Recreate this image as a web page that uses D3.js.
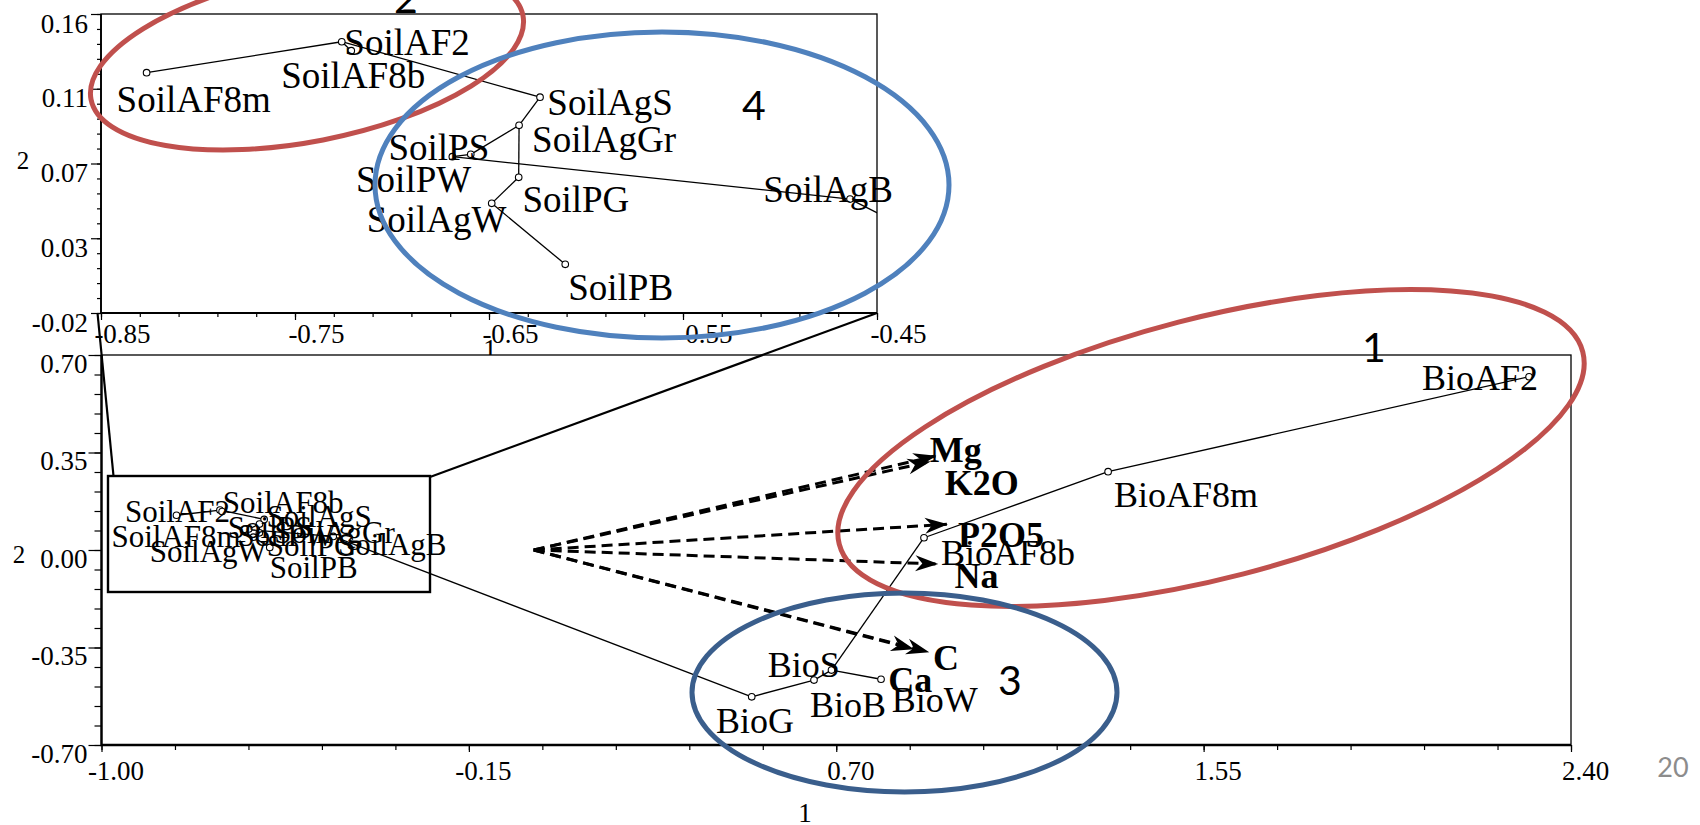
<!DOCTYPE html>
<html><head><meta charset="utf-8">
<script src="https://cdn.jsdelivr.net/npm/d3@7"></script>
<style>body{margin:0;background:#fff} svg{display:block}</style>
</head><body>
<svg id="c" width="1700" height="825"></svg>
<script>
// ---------------- DATA ----------------
const soilNames = ["SoilAF8m","SoilAF2","SoilAF8b","SoilAgS","SoilAgGr","SoilPS","SoilPW","SoilPG","SoilAgW","SoilPB","SoilAgB"];
const soilX = [-0.8265,-0.7259,-0.7210,-0.6237,-0.6345,-0.6594,-0.6689,-0.6347,-0.6486,-0.6107,-0.4639];
const soilY = [0.1247,0.1433,0.1379,0.1099,0.0930,0.0755,0.0741,0.0617,0.0460,0.0093,0.0486];

const bioNames = ["BioAF2","BioAF8m","BioAF8b","BioS","BioB","BioG","BioW"];
const bioX = [2.303,1.329,0.903,0.689,0.6485,0.5044,0.8036];
const bioY = [0.622,0.281,0.044,-0.431,-0.467,-0.527,-0.464];

const varNames = ["Mg","K2O","P2O5","Na","C","Ca"];
const varX = [0.9294,0.9159,0.956,0.9338,0.913,0.878];
const varY = [0.3374,0.3170,0.0923,-0.0503,-0.3662,-0.355];

const links = [
  ["SoilAF8m","SoilAF2"],["SoilAF2","SoilAF8b"],["SoilAF2","SoilAgS"],["SoilAgS","SoilAgGr"],
  ["SoilAgGr","SoilPG"],["SoilAgGr","SoilPS"],["SoilPS","SoilPW"],["SoilPG","SoilAgW"],
  ["SoilAgW","SoilPB"],["SoilPW","SoilAgB"],["SoilAgB","BioG"],["BioG","BioB"],
  ["BioB","BioS"],["BioS","BioW"],["BioS","BioAF8b"],["BioAF8b","BioAF8m"],["BioAF8m","BioAF2"]
];

const insetXTicks = [-0.85,-0.75,-0.65,-0.55,-0.45];
const insetXLabels = ["-0.85","-0.75","-0.65","-0.55","-0.45"];
const insetYTicks = [0.16,0.115,0.07,0.025,-0.02];
const insetYLabels = ["0.16","0.11","0.07","0.03","-0.02"];
const mainXTicks = [-1.00,-0.15,0.70,1.55,2.40];
const mainXLabels = ["-1.00","-0.15","0.70","1.55","2.40"];
const mainYTicks = [0.70,0.35,0.00,-0.35,-0.70];
const mainYLabels = ["0.70","0.35","0.00","-0.35","-0.70"];

// ---------------- LAYOUT ----------------
const serif = "'Liberation Serif','Times New Roman',serif";
const sans = "Lato,'Open Sans',sans-serif";
const svg = d3.select("#c");

const xI = d3.scaleLinear().domain([-0.85,-0.45]).range([101,877]);
const yI = d3.scaleLinear().domain([-0.02,0.16]).range([313,14]);
const xM = d3.scaleLinear().domain([-1.0,2.4]).range([101.5,1571]);
const yM = d3.scaleLinear().domain([-0.70,0.70]).range([745,355]);

const insetLabelOff = {SoilAF8m:[-30,39],SoilAF2:[2.6,13.3],SoilAF8b:[-70,37.6],SoilAgS:[7.3,17.7],
  SoilAgGr:[13,27],SoilPS:[-82.3,5.7],SoilPW:[-96.3,35],SoilPG:[3.7,34.4],SoilAgW:[-125,29],
  SoilPB:[3,35.7],SoilAgB:[-86.7,2.7]};
const mainSoilOff = {SoilAF8m:[-65,31.4],SoilAF2:[-95,11.6],SoilAF8b:[0.7,1.4],SoilAgS:[2.4,7.3],
  SoilAgGr:[14.8,19],SoilAgB:[4.8,18.5],SoilAgW:[-103.6,25],SoilPB:[0,30.6],SoilPG:[7.4,23],
  SoilPS:[-21,9],SoilPW:[-7,16.6]};
const bioOff = {BioAF2:[-107,13.3],BioAF8m:[5.8,35],BioAF8b:[17,27.3],BioS:[-63.7,6.7],
  BioB:[-4,36.7],BioG:[-35.7,36.3],BioW:[10.7,32.4]};
const varOff = {Mg:[-5.7,5.7],K2O:[15.3,33.3],P2O5:[11,22.4],Na:[17.3,24],C:[4.7,18],Ca:[-25,42.7]};

const pts = {};
soilNames.forEach((n,i)=>pts[n]=[soilX[i],soilY[i]]);
bioNames.forEach((n,i)=>pts[n]=[bioX[i],bioY[i]]);

function styleAxis(g, fs){
  g.select(".domain").remove();
  g.attr("font-family",serif).attr("font-size",fs);
  g.selectAll("line").attr("stroke","#000").attr("stroke-width",1.2);
  g.selectAll("text").attr("fill","#000");
}
function range(a,b,step){const n=Math.round((b-a)/step);return d3.range(n+1).map(i=>+(a+i*step).toFixed(6));}

// ---------------- INSET ----------------
const gI = svg.append("g");
const [ix0,ix1] = xI.range(), [iy0,iy1] = yI.range();
gI.append("g").attr("transform",`translate(0,${iy0})`)
  .call(d3.axisBottom(xI).tickValues(range(-0.85,-0.45,0.02)).tickSize(4).tickFormat(""))
  .call(g=>styleAxis(g,27));
gI.append("g").attr("transform",`translate(0,${iy0})`)
  .call(d3.axisBottom(xI).tickValues(insetXTicks).tickSize(7).tickFormat((d,i)=>insetXLabels[i]))
  .call(g=>styleAxis(g,27))
  .call(g=>g.selectAll("text").attr("x",21).attr("y",30).attr("dy",null));
gI.append("g").attr("transform",`translate(${ix0},0)`)
  .call(d3.axisLeft(yI).tickValues(range(-0.02,0.16,0.009)).tickSize(4).tickFormat(""))
  .call(g=>styleAxis(g,27));
gI.append("g").attr("transform",`translate(${ix0},0)`)
  .call(d3.axisLeft(yI).tickValues(insetYTicks).tickSize(10).tickFormat((d,i)=>insetYLabels[i]))
  .call(g=>styleAxis(g,27))
  .call(g=>g.selectAll("text").attr("x",-13).attr("dy",18));
gI.append("rect").attr("x",ix0).attr("y",iy1).attr("width",ix1-ix0).attr("height",iy0-iy1)
  .attr("fill","none").attr("stroke","#000").attr("stroke-width",1.3);
gI.append("path").attr("d",`M${ix0},${iy1}V${iy0}H${ix1}`).attr("fill","none").attr("stroke","#000").attr("stroke-width",1.8);
gI.append("text").attr("x",23).attr("y",169).attr("text-anchor","middle").attr("font-family",serif).attr("font-size",25).text("2");
gI.append("text").attr("x",490).attr("y",358).attr("text-anchor","middle").attr("font-family",serif).attr("font-size",27).text("1");

svg.append("defs").append("clipPath").attr("id","clipI").append("rect")
  .attr("x",ix0).attr("y",iy1).attr("width",ix1-ix0).attr("height",iy0-iy1);
const gID = gI.append("g").attr("clip-path","url(#clipI)");
gID.selectAll("line.l").data(links).join("line")
  .attr("x1",d=>xI(pts[d[0]][0])).attr("y1",d=>yI(pts[d[0]][1]))
  .attr("x2",d=>xI(pts[d[1]][0])).attr("y2",d=>yI(pts[d[1]][1]))
  .attr("stroke","#000").attr("stroke-width",1.3);
gID.selectAll("circle").data(soilNames).join("circle")
  .attr("cx",d=>xI(pts[d][0])).attr("cy",d=>yI(pts[d][1])).attr("r",3.3)
  .attr("fill","#fff").attr("stroke","#000").attr("stroke-width",1.1);
gI.selectAll("text.sl").data(soilNames).join("text").attr("class","sl")
  .attr("x",d=>xI(pts[d][0])+insetLabelOff[d][0]).attr("y",d=>yI(pts[d][1])+insetLabelOff[d][1])
  .attr("font-family",serif).attr("font-size",37).text(d=>d);

// ---------------- MAIN ----------------
const gM = svg.append("g");
const [mx0,mx1] = xM.range(), [my0,my1] = yM.range();
gM.append("rect").attr("x",mx0).attr("y",my1).attr("width",mx1-mx0).attr("height",my0-my1).attr("fill","#fff");
gM.append("g").attr("transform",`translate(0,${my0})`)
  .call(d3.axisBottom(xM).tickValues(range(-1.0,2.4,0.17)).tickSize(5).tickFormat(""))
  .call(g=>styleAxis(g,27));
gM.append("g").attr("transform",`translate(0,${my0})`)
  .call(d3.axisBottom(xM).tickValues(mainXTicks).tickSize(7).tickFormat((d,i)=>mainXLabels[i]))
  .call(g=>styleAxis(g,27))
  .call(g=>g.selectAll("text").attr("x",14).attr("y",35).attr("dy",null));
gM.append("g").attr("transform",`translate(${mx0},0)`)
  .call(d3.axisLeft(yM).tickValues(range(-0.70,0.70,0.07)).tickSize(7).tickFormat(""))
  .call(g=>styleAxis(g,27));
gM.append("g").attr("transform",`translate(${mx0},0)`)
  .call(d3.axisLeft(yM).tickValues(mainYTicks).tickSize(13).tickFormat((d,i)=>mainYLabels[i]))
  .call(g=>styleAxis(g,27))
  .call(g=>g.selectAll("text").attr("x",-14).attr("dy",17));
gM.append("rect").attr("x",mx0).attr("y",my1).attr("width",mx1-mx0).attr("height",my0-my1)
  .attr("fill","none").attr("stroke","#000").attr("stroke-width",1.3);
gM.append("path").attr("d",`M${mx0},${my1}V${my0}H${mx1}`).attr("fill","none").attr("stroke","#000").attr("stroke-width",2.4);
gM.append("text").attr("x",19).attr("y",563).attr("text-anchor","middle").attr("font-family",serif).attr("font-size",25).text("2");
gM.append("text").attr("x",805).attr("y",822).attr("text-anchor","middle").attr("font-family",serif).attr("font-size",27).text("1");

// zoom annotation: rectangle + connectors
svg.append("rect").attr("x",108).attr("y",476).attr("width",322).attr("height",116)
  .attr("fill","none").attr("stroke","#000").attr("stroke-width",2.4);
svg.append("line").attr("x1",97.5).attr("y1",313).attr("x2",113.5).attr("y2",476).attr("stroke","#000").attr("stroke-width",2.2);
svg.append("line").attr("x1",877).attr("y1",313).attr("x2",430).attr("y2",477).attr("stroke","#000").attr("stroke-width",2.2);

// data lines
gM.selectAll("line.l").data(links).join("line").attr("class","l")
  .attr("x1",d=>xM(pts[d[0]][0])).attr("y1",d=>yM(pts[d[0]][1]))
  .attr("x2",d=>xM(pts[d[1]][0])).attr("y2",d=>yM(pts[d[1]][1]))
  .attr("stroke","#000").attr("stroke-width",1.3);

// arrows
const defs = svg.select("defs");
defs.append("marker").attr("id","ah").attr("markerUnits","userSpaceOnUse")
  .attr("viewBox","-24 -10 26 20").attr("refX",0).attr("refY",0)
  .attr("markerWidth",26).attr("markerHeight",20).attr("orient","auto")
  .append("path").attr("d","M1,0 L-22,-8 L-15,0 L-22,8 Z").attr("fill","#000");
gM.selectAll("line.a").data(varNames).join("line").attr("class","a")
  .attr("x1",xM(0)).attr("y1",yM(0))
  .attr("x2",(d,i)=>xM(varX[i])).attr("y2",(d,i)=>yM(varY[i]))
  .attr("stroke","#000").attr("stroke-width",3).attr("stroke-dasharray","11,6")
  .attr("marker-end","url(#ah)");

// points
gM.selectAll("circle").data(soilNames.concat(bioNames)).join("circle")
  .attr("cx",d=>xM(pts[d][0])).attr("cy",d=>yM(pts[d][1])).attr("r",3.3)
  .attr("fill","#fff").attr("stroke","#000").attr("stroke-width",1.1);

// labels
gM.selectAll("text.sl").data(soilNames).join("text").attr("class","sl")
  .attr("x",d=>xM(pts[d][0])+mainSoilOff[d][0]).attr("y",d=>yM(pts[d][1])+mainSoilOff[d][1])
  .attr("font-family",serif).attr("font-size",31).text(d=>d);
gM.selectAll("text.bl").data(bioNames).join("text").attr("class","bl")
  .attr("x",d=>xM(pts[d][0])+bioOff[d][0]).attr("y",d=>yM(pts[d][1])+bioOff[d][1])
  .attr("font-family",serif).attr("font-size",36).text(d=>d);
gM.selectAll("text.vl").data(varNames).join("text").attr("class","vl")
  .attr("x",(d,i)=>xM(varX[i])+varOff[d][0]).attr("y",(d,i)=>yM(varY[i])+varOff[d][1])
  .attr("font-family",serif).attr("font-weight","bold").attr("font-size",36).text(d=>d);

// ---------------- ANNOTATION ELLIPSES ----------------
const ellipses = [
  {cx:307,cy:57.5,rx:220,ry:84,rot:-11,color:"#C0504D"},
  {cx:662,cy:185,rx:287,ry:153,rot:0,color:"#4F81BD"},
  {cx:1211,cy:448,rx:384,ry:130,rot:-14.5,color:"#C0504D"},
  {cx:904.5,cy:692.5,rx:212.5,ry:99.5,rot:0,color:"#3A5E8C"}
];
svg.selectAll("ellipse").data(ellipses).join("ellipse")
  .attr("cx",0).attr("cy",0).attr("rx",d=>d.rx).attr("ry",d=>d.ry)
  .attr("transform",d=>`translate(${d.cx},${d.cy}) rotate(${d.rot})`)
  .attr("fill","none").attr("stroke",d=>d.color).attr("stroke-width",5);

const nums = [{t:"2",x:406,y:13},{t:"4",x:754,y:120},{t:"1",x:1374,y:362},{t:"3",x:1010,y:695}];
svg.selectAll("text.num").data(nums).join("text").attr("class","num")
  .attr("x",d=>d.x).attr("y",d=>d.y).attr("text-anchor","middle")
  .attr("font-family",sans).attr("font-size",41).attr("fill","#000").text(d=>d.t);
svg.append("text").attr("x",1673).attr("y",777).attr("text-anchor","middle")
  .attr("font-family",sans).attr("font-size",27).attr("fill","#8c8c8c").text("20");
</script>
</body></html>
